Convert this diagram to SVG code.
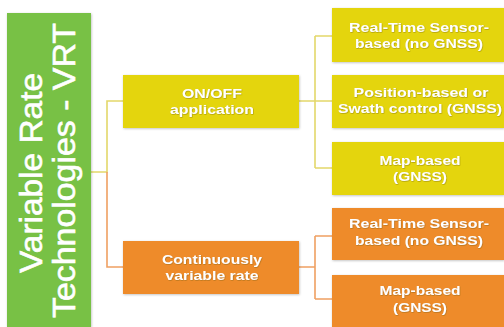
<svg xmlns="http://www.w3.org/2000/svg" width="504" height="327" viewBox="0 0 504 327">
  <defs>
    <filter id="boxShadow" x="-5%" y="-5%" width="110%" height="115%">
      <feDropShadow dx="0.6" dy="0.8" stdDeviation="0.8" flood-color="#000" flood-opacity="0.25"/>
    </filter>
    <filter id="textShadow" x="-5%" y="-20%" width="110%" height="140%">
      <feDropShadow dx="0.5" dy="0.6" stdDeviation="0.4" flood-color="#6b5a10" flood-opacity="0.55"/>
    </filter>
    <style>
      .title { font-family: "Liberation Sans", Arial, sans-serif; font-size: 32px; fill: #ffffff; stroke: #ffffff; stroke-width: 0.6; text-anchor: middle; }
      .lbl { font-family: "Liberation Sans", Arial, sans-serif; font-weight: bold; font-size: 13.5px; fill: #ffffff; text-anchor: middle; filter: url(#textShadow); }
      .green { fill: #78c144; filter: url(#boxShadow); }
      .yellow { fill: #e4d50b; filter: url(#boxShadow); }
      .orange { fill: #ee8b2b; filter: url(#boxShadow); }
      .lnY { stroke: #e3d76a; stroke-width: 1.6; fill: none; }
      .lnO { stroke: #efa062; stroke-width: 1.6; fill: none; }
    </style>
  </defs>

  <rect width="504" height="327" fill="#ffffff"/>

  <!-- connectors -->
  <g id="connectors">
    <path class="lnY" d="M91 172 H107 V101 H123"/>
    <path class="lnO" d="M107 172 V267 H123"/>
    <path class="lnY" d="M299 101 H332 M315 36 V168 M315 36 H332 M315 168 H332"/>
    <path class="lnO" d="M299 267 H315 M315 236 V299 M315 236 H332 M315 299 H332"/>
  </g>

  <!-- root -->
  <g id="vrt">
    <rect class="green" x="7" y="13" width="84" height="314"/>
    <g class="title" transform="rotate(-90)">
      <text x="-173" y="42" textLength="200" lengthAdjust="spacingAndGlyphs">Variable Rate</text>
      <text x="-170.5" y="75" textLength="295" lengthAdjust="spacingAndGlyphs">Technologies - VRT</text>
    </g>
  </g>

  <g id="onoff">
    <rect class="yellow" x="123" y="75" width="176" height="53"/>
    <text class="lbl" x="212" y="98" textLength="60" lengthAdjust="spacingAndGlyphs">ON/OFF</text>
    <text class="lbl" x="212" y="114" textLength="84" lengthAdjust="spacingAndGlyphs">application</text>
  </g>

  <g id="continuous">
    <rect class="orange" x="123" y="241" width="176" height="53"/>
    <text class="lbl" x="212" y="264" textLength="100" lengthAdjust="spacingAndGlyphs">Continuously</text>
    <text class="lbl" x="212" y="280" textLength="93" lengthAdjust="spacingAndGlyphs">variable rate</text>
  </g>

  <g id="onoff-sensor">
    <rect class="yellow" x="332" y="8" width="172" height="54"/>
    <text class="lbl" x="419" y="32" textLength="140" lengthAdjust="spacingAndGlyphs">Real-Time Sensor-</text>
    <text class="lbl" x="419" y="48" textLength="128" lengthAdjust="spacingAndGlyphs">based (no GNSS)</text>
  </g>

  <g id="onoff-position">
    <rect class="yellow" x="332" y="75" width="172" height="53"/>
    <text class="lbl" x="421" y="97" textLength="135" lengthAdjust="spacingAndGlyphs">Position-based or</text>
    <text class="lbl" x="420" y="113" textLength="164" lengthAdjust="spacingAndGlyphs">Swath control (GNSS)</text>
  </g>

  <g id="onoff-map">
    <rect class="yellow" x="332" y="142" width="172" height="53"/>
    <text class="lbl" x="420" y="165" textLength="81" lengthAdjust="spacingAndGlyphs">Map-based</text>
    <text class="lbl" x="420" y="181" textLength="54" lengthAdjust="spacingAndGlyphs">(GNSS)</text>
  </g>

  <g id="cont-sensor">
    <rect class="orange" x="332" y="208" width="172" height="52"/>
    <text class="lbl" x="419" y="228" textLength="140" lengthAdjust="spacingAndGlyphs">Real-Time Sensor-</text>
    <text class="lbl" x="419" y="245" textLength="128" lengthAdjust="spacingAndGlyphs">based (no GNSS)</text>
  </g>

  <g id="cont-map">
    <rect class="orange" x="332" y="275" width="172" height="54"/>
    <text class="lbl" x="420" y="295" textLength="81" lengthAdjust="spacingAndGlyphs">Map-based</text>
    <text class="lbl" x="420" y="312" textLength="54" lengthAdjust="spacingAndGlyphs">(GNSS)</text>
  </g>
</svg>
